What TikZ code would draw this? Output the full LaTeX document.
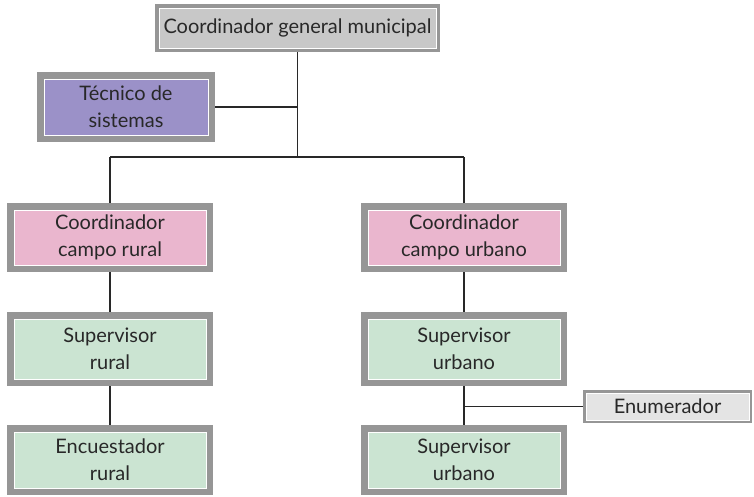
\documentclass[tikz,border=0pt]{standalone}
\usepackage{fontspec}
\setmainfont{Lato}
\usetikzlibrary{backgrounds}
\definecolor{topfill}{RGB}{200,200,200}
\definecolor{tecfill}{RGB}{155,145,200}
\definecolor{pinkfill}{RGB}{234,182,206}
\definecolor{greenfill}{RGB}{203,228,210}
\definecolor{enumfill}{RGB}{228,228,228}
\definecolor{framegray}{RGB}{150,150,150}
\definecolor{textgray}{RGB}{40,40,40}
\tikzset{
  box/.style={draw=white, line width=1pt, fill=#1, text=textgray, align=center,
    inner sep=0pt, font=\fontsize{20}{27}\selectfont},
  frame/.style={preaction={draw=framegray, line width=#1}},
  conn/.style={draw=textgray, line width=1.4pt}
}
\begin{document}
\begin{tikzpicture}[x=1pt, y=-1pt]
    \useasboundingbox (0,0) rectangle (754,496);
    \node[box=topfill, frame=8pt, minimum width=277pt, minimum height=40pt] (coordgen) at (297.5,28) {Coordinador general municipal};
    \node[box=tecfill, frame=14pt, minimum width=164pt, minimum height=56pt] (tecnico) at (126,107) {Técnico de\\sistemas};
    \node[box=pinkfill, frame=14pt, minimum width=192pt, minimum height=55pt] (coordrur) at (110,237.5) {Coordinador\\campo rural};
    \node[box=pinkfill, frame=14pt, minimum width=192pt, minimum height=55pt] (coordurb) at (464,237.5) {Coordinador\\campo urbano};
    \node[box=greenfill, frame=14pt, minimum width=192pt, minimum height=60pt] (suprur) at (110,349) {Supervisor\\rural};
    \node[box=greenfill, frame=14pt, minimum width=192pt, minimum height=60pt] (supurb) at (464,349) {Supervisor\\urbano};
    \node[box=greenfill, frame=14pt, minimum width=192pt, minimum height=56pt] (encrur) at (110,460) {Encuestador\\rural};
    \node[box=greenfill, frame=14pt, minimum width=192pt, minimum height=56pt] (supurbb) at (464,460) {Supervisor\\urbano};
    \node[box=enumfill, frame=6pt, minimum width=163pt, minimum height=27pt] (enum) at (667.5,406.5) {Enumerador};
    \coordinate (bus) at (298,157);
    \begin{scope}[on background layer]
    \draw[conn] (coordgen.south) -- (coordgen.south |- bus);
    \draw[conn] (tecnico.east) -- (tecnico.east -| coordgen.south);
    \draw[conn] (coordrur.north |- bus) -- (coordurb.north |- bus);
    \draw[conn] (coordrur.north |- bus) -- (coordrur.north);
    \draw[conn] (coordurb.north |- bus) -- (coordurb.north);
    \draw[conn] (coordrur.south) -- (suprur.north);
    \draw[conn] (suprur.south) -- (encrur.north);
    \draw[conn] (coordurb.south) -- (supurb.north);
    \draw[conn] (supurb.south) -- (supurbb.north);
    \draw[conn] (enum.west) -- (enum.west -| supurb.south);
    \end{scope}
\end{tikzpicture}
\end{document}
